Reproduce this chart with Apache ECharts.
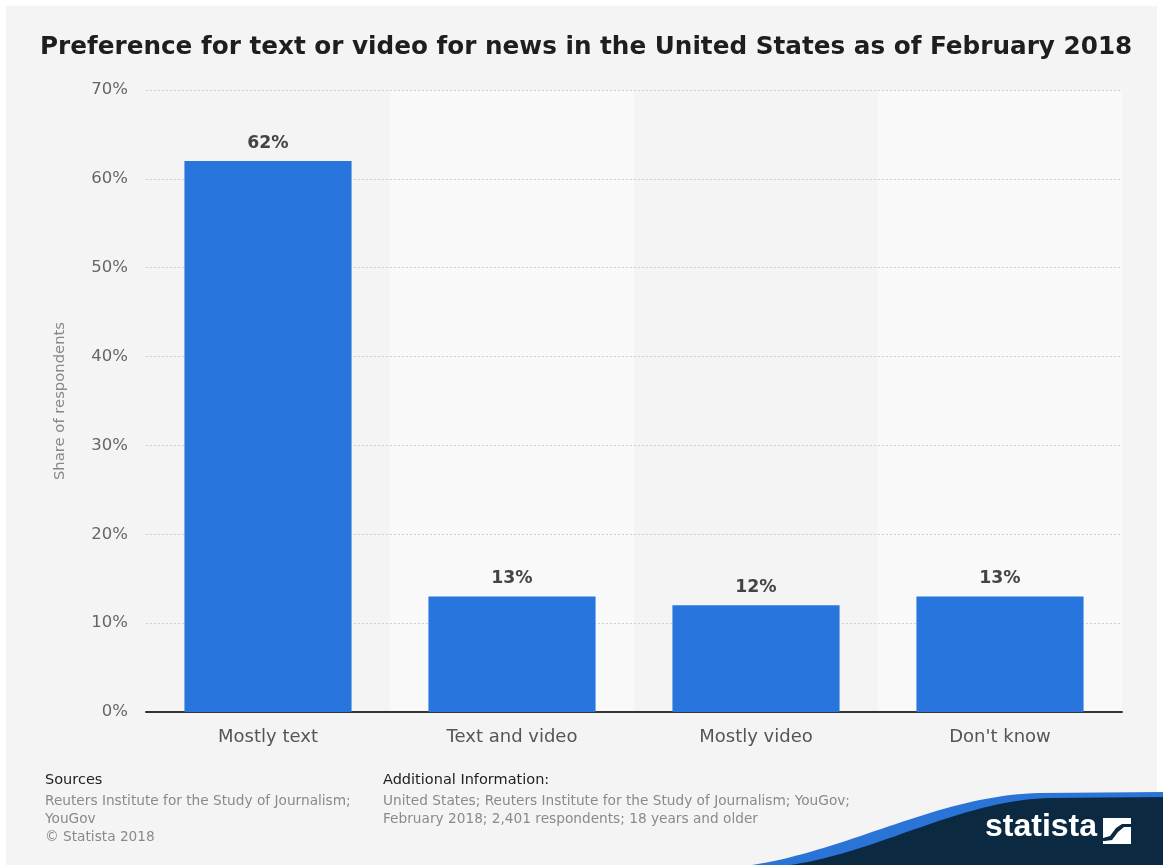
<!DOCTYPE html>
<html>
<head>
<meta charset="utf-8">
<script src="https://cdn.jsdelivr.net/npm/echarts@6/dist/echarts.min.js"></script>
<style>
  html, body { margin: 0; padding: 0; background: #ffffff; }
  #chart { width: 1163px; height: 865px; }
</style>
</head>
<body>
<div id="chart"></div>
<script>
// Survey answers and their shares (percent of respondents)
const categories = ['Mostly text', 'Text and video', 'Mostly video', "Don't know"];
const shares = [62, 13, 12, 13];
const yTicks = { min: 0, max: 70, interval: 10 };

const titleText = 'Preference for text or video for news in the United States as of February 2018';
const sourcesLines = ['Reuters Institute for the Study of Journalism;', 'YouGov', '\u00A9 Statista 2018'];
const additionalLines = ['United States; Reuters Institute for the Study of Journalism; YouGov;', 'February 2018; 2,401 respondents; 18 years and older'];

const FONT = '"DejaVu Sans", "Noto Sans", sans-serif';

// Sample a cubic bezier into polygon points (for the footer swoosh)
function bezierPts(p0, p1, p2, p3, n) {
  const pts = [];
  for (let i = 0; i <= n; i++) {
    const t = i / n, u = 1 - t;
    pts.push([
      u*u*u*p0[0] + 3*u*u*t*p1[0] + 3*u*t*t*p2[0] + t*t*t*p3[0],
      u*u*u*p0[1] + 3*u*u*t*p1[1] + 3*u*t*t*p2[1] + t*t*t*p3[1]
    ]);
  }
  return pts;
}
function swoosh(p0, p1, p2, p3, rightY) {
  const pts = bezierPts(p0, p1, p2, p3, 40);
  pts.push([1163, rightY], [1163, 865]);
  return pts;
}

const chart = echarts.init(document.getElementById('chart'), null, { renderer: 'canvas' });

const option = {
  backgroundColor: '#ffffff',
  animation: false,
  title: {
    text: titleText,
    left: 35,
    top: 30,
    textStyle: { fontFamily: FONT, fontSize: 24.7, fontWeight: 'bold', color: '#1e1e1e' }
  },
  grid: { left: 146, right: 41, top: 90, bottom: 153 },
  xAxis: {
    type: 'category',
    data: categories,
    z: 0,
    axisLine: { lineStyle: { color: '#333333', width: 2 } },
    axisTick: { show: false },
    axisLabel: { fontFamily: FONT, fontSize: 18, color: '#555555', margin: 16 },
    splitArea: { show: true, areaStyle: { color: ['#f4f4f4', '#f9f9f9'] } }
  },
  yAxis: {
    type: 'value',
    z: 1,
    min: yTicks.min,
    max: yTicks.max,
    interval: yTicks.interval,
    name: 'Share of respondents',
    nameLocation: 'middle',
    nameGap: 78,
    nameTextStyle: { fontFamily: FONT, fontSize: 14.8, color: '#888888' },
    axisLine: { show: false },
    axisTick: { show: false },
    axisLabel: { fontFamily: FONT, fontSize: 16.5, color: '#666666', margin: 18, formatter: '{value}%' },
    splitLine: { show: true, showMinLine: false, lineStyle: { color: '#d0d0d0', type: [2, 2], width: 1 } }
  },
  series: [{
    type: 'bar',
    data: shares,
    barWidth: '68.5%',
    itemStyle: { color: '#2876dd' },
    label: {
      show: true,
      position: 'top',
      distance: 9,
      formatter: '{c}%',
      fontFamily: FONT,
      fontSize: 17.3,
      fontWeight: 'bold',
      color: '#444444'
    },
    z: 3
  }],
  graphic: [
    // grey card behind everything
    { type: 'rect', z: -10, shape: { x: 6, y: 6, width: 1151, height: 859 }, style: { fill: '#f4f4f4' }, silent: true },
    // footer: sources
    { type: 'text', x: 45, y: 773, style: { text: 'Sources', font: '14.5px ' + FONT, fill: '#222222' } },
    { type: 'text', x: 45, y: 792, style: { text: sourcesLines.join('\n'), font: '13.7px ' + FONT, fill: '#8a8a8a', lineHeight: 18 } },
    // footer: additional information
    { type: 'text', x: 383, y: 773, style: { text: 'Additional Information:', font: '14.5px ' + FONT, fill: '#222222' } },
    { type: 'text', x: 383, y: 792, style: { text: additionalLines.join('\n'), font: '13.7px ' + FONT, fill: '#8a8a8a', lineHeight: 18 } },
    // brand swoosh
    { type: 'polygon', z: 5, shape: { points: swoosh([752, 865], [850, 850], [940, 795], [1040, 793], 792) }, style: { fill: '#2a74d8' }, silent: true },
    { type: 'polygon', z: 6, shape: { points: swoosh([790, 865], [880, 852], [960, 800], [1050, 798], 797) }, style: { fill: '#0b2a42' }, silent: true },
    { type: 'text', z: 7, x: 985, y: 811, style: { text: 'statista', font: 'bold 32px "Liberation Sans", Arial, sans-serif', fill: '#ffffff' } },
    // logo mark
    { type: 'rect', z: 7, shape: { x: 1103, y: 818, width: 28, height: 26 }, style: { fill: '#ffffff' } },
    { type: 'polygon', z: 8, shape: { points: [[1103, 838], [1110, 836], [1116, 828], [1122, 824], [1131, 824], [1131, 827], [1124, 827], [1118, 832], [1112, 840], [1105, 841], [1103, 841]] }, style: { fill: '#0b2a42' } }
  ]
};

chart.setOption(option);
</script>
</body>
</html>
